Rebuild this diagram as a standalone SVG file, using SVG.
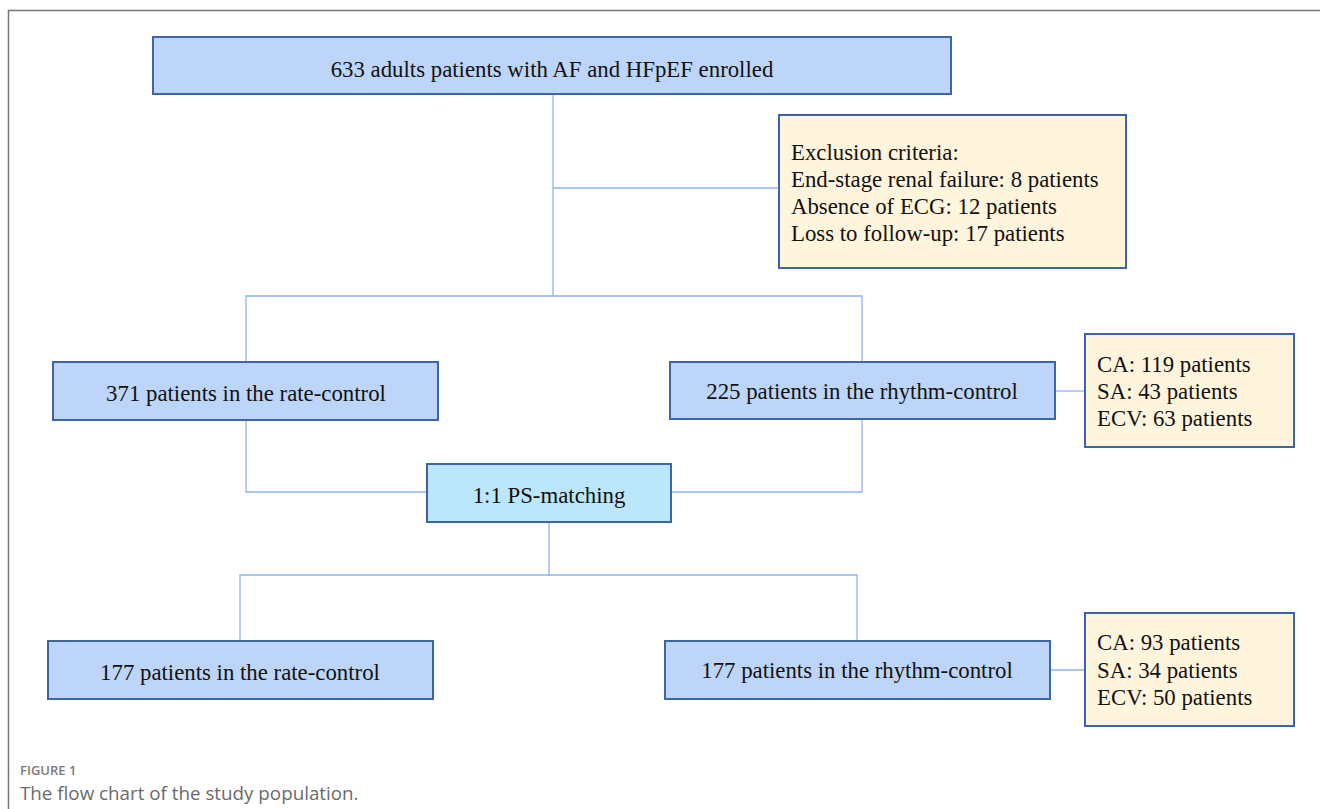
<svg xmlns="http://www.w3.org/2000/svg" width="1320" height="809" viewBox="0 0 1320 809">
<style>
.frame{fill:none;stroke:#777;stroke-width:1.5}
.blue{fill:#bcd5f8;stroke:#3e64a8;stroke-width:2}
.cyan{fill:#bce6fb;stroke:#3e64a8;stroke-width:2}
.cream{fill:#fff4dc;stroke:#3e64a8;stroke-width:2}
.t{font-family:"Liberation Serif","Times New Roman",serif;font-size:22.8px;fill:#111}
.c{text-anchor:middle}
.conn{fill:none;stroke:#8fb3ee;stroke-width:1.3}
.cap1{font-family:"Open Sans","Noto Sans",sans-serif;font-size:13px;font-weight:600;fill:#7a7a7a}
.cap2{font-family:"Open Sans","Noto Sans",sans-serif;font-size:18.8px;fill:#6b6b6b}
</style>
<rect width="1320" height="809" fill="#fff"/>
<path class="frame" d="M1320 10.5H8.5V809"/>
<g id="connectors">
<path class="conn" d="M553 94V296M553 188H779M246 362V296H862V362"/>
<path class="conn" d="M1055 391H1085"/>
<path class="conn" d="M246 420V492H427M862 420V492H671"/>
<path class="conn" d="M549 522V576M240 640V575H857V640"/>
<path class="conn" d="M1050 670H1085"/>
</g>
<g id="enrolled">
<rect class="blue" x="153" y="37" width="798" height="57"/>
<text class="t c" x="552" y="77">633 adults patients with AF and HFpEF enrolled</text>
</g>
<g id="exclusion">
<rect class="cream" x="779" y="115" width="347" height="153"/>
<text class="t" x="791" y="160">Exclusion criteria:</text>
<text class="t" x="791" y="187">End-stage renal failure: 8 patients</text>
<text class="t" x="791" y="214">Absence of ECG: 12 patients</text>
<text class="t" x="791" y="241">Loss to follow-up: 17 patients</text>
</g>
<g id="rate1">
<rect class="blue" x="53" y="362" width="385" height="58"/>
<text class="t c" x="246" y="401">371 patients in the rate-control</text>
</g>
<g id="rhythm1">
<rect class="blue" x="670" y="362" width="385" height="57"/>
<text class="t c" x="862" y="399">225 patients in the rhythm-control</text>
</g>
<g id="sub1">
<rect class="cream" x="1085" y="334" width="209" height="113"/>
<text class="t" x="1097" y="372">CA: 119 patients</text>
<text class="t" x="1097" y="399">SA: 43 patients</text>
<text class="t" x="1097" y="426">ECV: 63 patients</text>
</g>
<g id="psm">
<rect class="cyan" x="427" y="464" width="244" height="58"/>
<text class="t c" x="549" y="503">1:1 PS-matching</text>
</g>
<g id="rate2">
<rect class="blue" x="48" y="641" width="385" height="58"/>
<text class="t c" x="240" y="680">177 patients in the rate-control</text>
</g>
<g id="rhythm2">
<rect class="blue" x="665" y="641" width="385" height="58"/>
<text class="t c" x="857" y="678">177 patients in the rhythm-control</text>
</g>
<g id="sub2">
<rect class="cream" x="1085" y="613" width="209" height="113"/>
<text class="t" x="1097" y="650">CA: 93 patients</text>
<text class="t" x="1097" y="678">SA: 34 patients</text>
<text class="t" x="1097" y="705">ECV: 50 patients</text>
</g>
<text class="cap1" x="20" y="775">FIGURE 1</text>
<text class="cap2" x="20" y="800">The flow chart of the study population.</text>
</svg>
